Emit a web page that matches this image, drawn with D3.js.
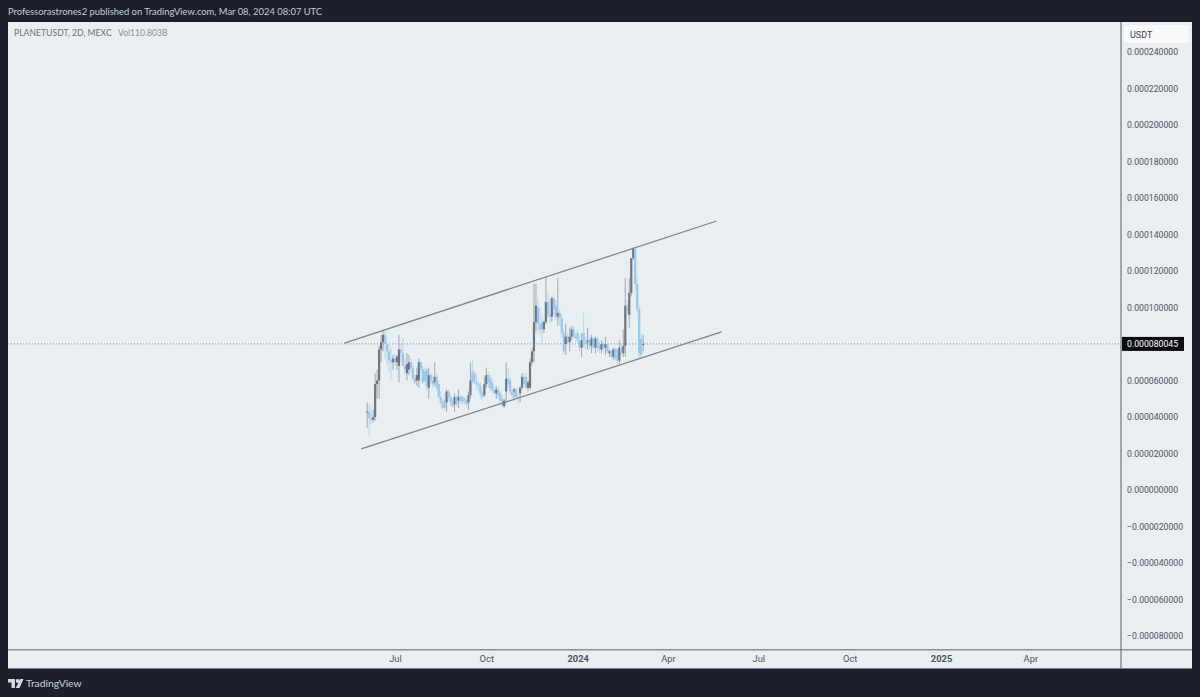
<!DOCTYPE html>
<html>
<head>
<meta charset="utf-8">
<script src="https://cdn.jsdelivr.net/npm/d3@7"></script>
<style>
  html, body { margin: 0; padding: 0; background: #1c202b; }
  svg { display: block; }
  text { font-family: Lato, sans-serif; }
</style>
</head>
<body>
<svg id="chart" width="1200" height="697"></svg>
<script>
// prices are in millionths of a USDT
var priceUnit = 1e-6;
var lastPrice = 80.045;
var firstBar = new Date(Date.UTC(2023, 5, 3));

var opens = [
  42.5,43,39.5,38.5,40,58,60,77,81,85,
  80,76,71,70,72,70,68,77,75,68,
  64,66,70,67,61,60,60,70,66,65,
  66,56,63,60,59,62,58,51,48,49,
  48,54,51,48,47,51,49,51,51,50,
  49,48,52,65,64,59,58,57,53,52,
  58,63,61,59,55,53,55,53,50,46,
  54,61,60,54,54,55,51,53,56,62,
  62,56,56,70,76,92,100,91,92,88,
  92,103,96,95,105,101,95,97,94,86,
  80,84,81,84,88,84,86,82,78,86,
  81,81,82,79,83,78,83,79,77,80,
  78,80,75,76,73,77,77,71,78,75,
  79,101,96,108,127,132,113,99,83,80
];
var highs = [
  48,47,46,44,64,66,79,85,87,87,
  84,80,78,74,74,74,85,80,83,72,
  75,74,72,70,63,67,72,71,68,67,
  67,67,64,63,70,64,60,54,50,53,
  55,55,53,50,53,52,55,52,52,51,
  50,54,70,71,66,64,60,59,55,62,
  67,65,63,61,57,57,56,54,52,50,
  70,67,62,56,56,56,53,57,64,64,
  64,60,72,78,113,113,105,100,96,93,
  117,108,105,106,107,104,116,99,96,88,
  91,86,89,90,90,86,88,84,86,97,
  84,89,84,85,84,84,84,81,82,81,
  84,81,77,77,78,78,78,82,80,88,
  116,104,116,127,133,134,116,101,86,85
];
var lows = [
  34,29,36,37,38,50,50,70,76,72,
  68,65,60,66,68,66,59,70,68,63,
  60,63,64,60,58,57,56,64,58,59,
  55,50,58,56,57,55,50,47,44,44,
  43,49,46,45,43,46,45,47,47,47,
  46,44,50,58,58,55,54,50,49,51,
  56,56,54,53,52,50,50,48,45,45,
  48,56,52,50,49,50,47,48,55,57,
  55,54,55,68,70,87,87,85,80,86,
  91,94,92,92,96,93,90,90,84,74,
  74,80,76,82,83,81,80,76,73,78,
  77,77,77,75,77,75,76,75,75,76,
  74,75,73,72,71,71,68,69,74,73,
  73,96,89,106,126,110,97,72,72,76
];
var closes = [
  43,39.5,38.5,40,58,60,77,81,85,80,
  76,71,70,72,70,73,77,75,68,66,
  69,70,67,61,59,63,70,66,59,60,
  57,63,60,58,62,56,51,48,45,45,
  54,51,48,46,51,47,51,49,48,49,
  47,52,60,59,59,58,57,53,51,58,
  63,59,56,55,53,55,52,49,46,49,
  61,58,54,52,55,51,50,56,62,58,
  56,59,70,76,92,101,91,88,88,92,
  103,96,95,105,99,95,97,94,86,76,
  84,81,84,88,84,83,82,78,82,81,
  80,82,79,83,78,83,78,77,80,78,
  80,76,76,73,77,72,71,78,75,79,
  101,98,108,127,132.5,113,99,75,74,80.045
];

var priceTicks = [240,220,200,180,160,140,120,100,80,60,40,20,0,-20,-40,-60,-80];
var timeTicks = [
  new Date(Date.UTC(2023, 6, 1)), new Date(Date.UTC(2023, 9, 1)), new Date(Date.UTC(2024, 0, 1)),
  new Date(Date.UTC(2024, 3, 1)), new Date(Date.UTC(2024, 6, 1)), new Date(Date.UTC(2024, 9, 1)),
  new Date(Date.UTC(2025, 0, 1)), new Date(Date.UTC(2025, 3, 1))
];
var timeLabels = ["Jul","Oct","2024","Apr","Jul","Oct","2025","Apr"];

// the two drawn channel lines, [date, price]
var upperChannel = [[new Date(Date.UTC(2023, 4, 11)), 80.5], [new Date(Date.UTC(2024, 4, 20)), 147.4]];
var lowerChannel = [[new Date(Date.UTC(2023, 4, 28)), 22.5], [new Date(Date.UTC(2024, 4, 25)), 86.6]];

var bars = opens.map(function(o, i) {
  return { date: d3.utcDay.offset(firstBar, i * 2), o: o, h: highs[i], l: lows[i], c: closes[i] };
});

var svg = d3.select("#chart");
var x = d3.scaleUtc().domain([timeTicks[0], timeTicks[6]]).range([395, 941]);
var y = d3.scaleLinear().domain([240, -80]).range([52, 636]);

var upColor = "#72757f", downColor = "#95c8f3", bg = "#e9eef1";
var axisFont = "Roboto, sans-serif";

svg.append("rect").attr("x", 8).attr("y", 22).attr("width", 1184).attr("height", 647).attr("fill", bg);

// last price line goes behind the bars
svg.append("line")
  .attr("x1", 8).attr("x2", 1121).attr("y1", y(lastPrice)).attr("y2", y(lastPrice))
  .attr("stroke", "#7d828d").attr("stroke-width", 0.9).attr("stroke-dasharray", "1 2");

var candles = svg.append("g").selectAll("g").data(bars).join("g")
  .attr("fill", function(d) { return d.c >= d.o ? upColor : downColor; })
  .attr("stroke", function(d) { return d.c >= d.o ? upColor : downColor; });

candles.append("line")
  .attr("x1", function(d) { return x(d.date); })
  .attr("x2", function(d) { return x(d.date); })
  .attr("y1", function(d) { return y(d.h); })
  .attr("y2", function(d) { return y(d.l); })
  .attr("stroke-width", 0.9)
  .attr("stroke-opacity", 0.65);

candles.append("rect")
  .attr("stroke", "none")
  .attr("x", function(d) { return x(d.date) - 1.1; })
  .attr("width", 2.2)
  .attr("y", function(d) { return y(Math.max(d.o, d.c)); })
  .attr("height", function(d) { return Math.max(1, Math.abs(y(d.o) - y(d.c))); });

var channel = d3.line().x(function(d) { return x(d[0]); }).y(function(d) { return y(d[1]); });
svg.selectAll("path.channel").data([upperChannel, lowerChannel]).join("path")
  .attr("class", "channel")
  .attr("d", channel)
  .attr("fill", "none")
  .attr("stroke", "#7f8286")
  .attr("stroke-width", 1.25);

// panel separators
svg.append("rect").attr("x", 8).attr("y", 649).attr("width", 1184).attr("height", 1.5).attr("fill", "#8a8e96");
svg.append("rect").attr("x", 1120.5).attr("y", 22).attr("width", 1).attr("height", 647).attr("fill", "#5b5f69");
svg.append("rect").attr("x", 8).attr("y", 668).attr("width", 1184).attr("height", 1).attr("fill", "#7f838b");

// price axis
var priceFormat = function(v) {
  var s = (Math.abs(v) * priceUnit).toFixed(9);
  return (v < 0 ? "\u2212" : "") + s;
};
var yAxis = svg.append("g")
  .attr("transform", "translate(1121,0)")
  .call(d3.axisRight(y).tickValues(priceTicks).tickSize(0).tickPadding(6).tickFormat(priceFormat));
yAxis.select(".domain").remove();
yAxis.selectAll("text").attr("font-size", 8.7).attr("fill", "#50535e").style("font-family", axisFont);

// time axis
var xAxis = svg.append("g")
  .attr("transform", "translate(0,650)")
  .call(d3.axisBottom(x).tickValues(timeTicks).tickSize(0).tickPadding(5)
    .tickFormat(function(d, i) { return timeLabels[i]; }));
xAxis.select(".domain").remove();
xAxis.selectAll("text")
  .attr("font-size", 9.4)
  .attr("fill", "#50535e")
  .attr("font-weight", function(d, i) { return timeLabels[i].length > 3 ? 700 : 400; })
  .style("font-family", axisFont);

// currency box
svg.append("rect").attr("x", 1124).attr("y", 25).attr("width", 65).attr("height", 18).attr("rx", 2).attr("fill", "#f8f9fb");
svg.append("text").attr("x", 1130).attr("y", 38).attr("font-size", 9).attr("fill", "#3c3f49")
  .style("font-family", axisFont).text("USDT");

// last price tag
svg.append("rect").attr("x", 1122).attr("y", y(lastPrice) - 7).attr("width", 62).attr("height", 14).attr("fill", "#0b0c10");
svg.append("text").attr("x", 1127).attr("y", y(lastPrice) + 3.3).attr("font-size", 8.7).attr("fill", "#ffffff")
  .style("font-family", axisFont).text(priceFormat(lastPrice));

// header, legend and footer text
svg.append("text").attr("x", 8).attr("y", 15).attr("font-size", 9.4).attr("fill", "#c8ccd4")
  .text("Professorastrones2 published on TradingView.com, Mar 08, 2024 08:07 UTC");
svg.append("text").attr("x", 14).attr("y", 36).attr("font-size", 8.65).attr("fill", "#6d7079")
  .text("PLANETUSDT, 2D, MEXC");
svg.append("text").attr("x", 118).attr("y", 36).attr("font-size", 8.6).attr("fill", "#8b8e96")
  .text("Vol110.803B");

var logo = svg.append("g").attr("transform", "translate(8,678)").attr("fill", "#d6d9df");
logo.append("path").attr("d", "M0 1H7V10H3.5V4.5H0Z");
logo.append("circle").attr("cx", 9.6).attr("cy", 3).attr("r", 1.9);
logo.append("path").attr("d", "M12 1H15.5L11.5 10H7.8Z");
svg.append("text").attr("x", 26).attr("y", 687).attr("font-size", 10.3).attr("fill", "#cfd3da").text("TradingView");
</script>
</body>
</html>
